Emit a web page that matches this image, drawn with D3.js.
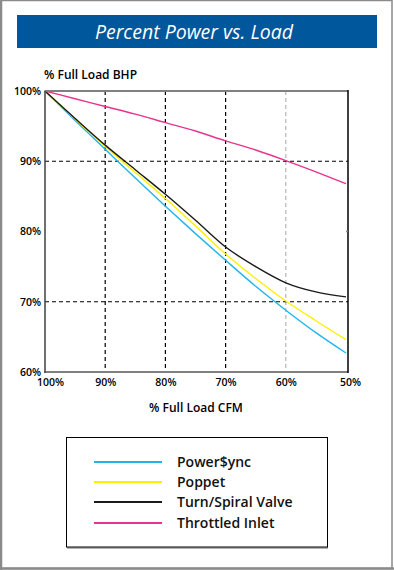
<!DOCTYPE html>
<html><head><meta charset="utf-8">
<script src="https://cdn.jsdelivr.net/npm/d3@7"></script>
<style>
html,body{margin:0;padding:0;background:#fff;}
svg text{font-family:"Open Sans",sans-serif;}
</style></head>
<body>
<svg id="chart" width="394" height="570"></svg>
<script>
const cfm = [100, 95, 90, 85, 80, 75, 70, 65, 60, 55, 50];
const powerSync = [100, 95.8, 91.7, 87.6, 83.6, 79.7, 75.9, 72.2, 68.8, 65.6, 62.7];
const poppet    = [100, 96.0, 92.1, 88.4, 84.7, 80.8, 76.8, 73.3, 70.1, 67.3, 64.6];
const turnSpiral= [100, 96.1, 92.3, 88.8, 85.3, 81.6, 77.8, 75.0, 72.7, 71.4, 70.7];
const throttled = [100, 98.9, 97.8, 96.7, 95.5, 94.3, 92.9, 91.6, 90.1, 88.5, 86.8];
const seriesNames = ["Power$ync", "Poppet", "Turn/Spiral Valve", "Throttled Inlet"];
const seriesColors = ["#22b4ec", "#fff000", "#1a1a1a", "#e8338f"];
const xTicks = [100, 90, 80, 70, 60, 50];
const yTicks = [100, 90, 80, 70, 60];
const title = "Percent Power vs. Load";
const yTitle = "% Full Load BHP";
const xTitle = "% Full Load CFM";

(function(){
const allSeries = [powerSync, poppet, turnSpiral, throttled];
const svg = d3.select("#chart");

// outer frame
svg.append("rect").attr("x",1).attr("y",0.5).attr("width",391).attr("height",568)
  .attr("fill","none").attr("stroke","#8a8a8a").attr("stroke-width",1.5);
svg.append("line").attr("x1",1).attr("x2",1).attr("y1",0).attr("y2",570).attr("stroke","#8a8a8a").attr("stroke-width",2.5);
svg.append("line").attr("x1",0).attr("x2",394).attr("y1",568.5).attr("y2",568.5).attr("stroke","#8a8a8a").attr("stroke-width",2.5);

// title banner
svg.append("rect").attr("x",17).attr("y",15).attr("width",360).attr("height",33).attr("fill","#00579b");
svg.append("text").attr("x",194).attr("y",39).attr("text-anchor","middle")
  .attr("fill","#fff").attr("font-size",19.5).attr("font-style","italic").attr("font-weight",400)
  .text(title);

const x = d3.scaleLinear().domain([100,50]).range([45,346]);
const y = d3.scaleLinear().domain([60,100]).range([372,91]);
const pL = 45, pR = 348, pT = 91, pB = 372;

// gridlines
const g = svg.append("g");
[90,80,70,60].forEach(v=>{
  g.append("line").attr("x1",x(v)).attr("x2",x(v)).attr("y1",pT).attr("y2",pB)
    .attr("stroke", v===60 ? "#b5b5b5" : "#000").attr("stroke-width",1.2).attr("stroke-dasharray","4,3");
});
[90,70].forEach(v=>{
  g.append("line").attr("x1",pL).attr("x2",pR).attr("y1",y(v)).attr("y2",y(v))
    .attr("stroke","#000").attr("stroke-width",1.2).attr("stroke-dasharray","4,3");
});

// lines
const line = d3.line().x((d,i)=>x(cfm[i])).y(d=>y(d)).curve(d3.curveMonotoneX);
[3,0,1,2].forEach(k=>{
  svg.append("path").datum(allSeries[k]).attr("d",line).attr("fill","none")
    .attr("stroke",seriesColors[k]).attr("stroke-width",1.4);
});

// frame
svg.append("line").attr("x1",pL-0.5).attr("x2",pR).attr("y1",pT).attr("y2",pT).attr("stroke","#808080").attr("stroke-width",2);
svg.append("line").attr("x1",pL-0.5).attr("x2",pR).attr("y1",pB).attr("y2",pB).attr("stroke","#808080").attr("stroke-width",2);
svg.append("line").attr("x1",pL).attr("x2",pL).attr("y1",pT).attr("y2",pB+1).attr("stroke","#404040").attr("stroke-width",1.5);
svg.append("line").attr("x1",pR).attr("x2",pR).attr("y1",pT-1).attr("y2",pB+1).attr("stroke","#000").attr("stroke-width",1.5);
svg.append("line").attr("x1",pR-2).attr("x2",pR).attr("y1",y(80)).attr("y2",y(80)).attr("stroke","#808080").attr("stroke-width",1.5);

// axes labels
const yAxis = d3.axisLeft(y).tickValues(yTicks).tickSize(0).tickPadding(4).tickFormat(d=>d+"%");
const ya = svg.append("g").attr("transform",`translate(${pL},0)`).call(yAxis);
ya.select(".domain").remove();
ya.selectAll("text").attr("font-size",10.5).attr("font-weight",600).attr("fill","#000")
  .attr("font-family","Open Sans, sans-serif");

const xAxis = d3.axisBottom(x).tickValues(xTicks).tickSize(0).tickPadding(7).tickFormat(d=>d+"%");
const xa = svg.append("g").attr("transform",`translate(0,${pB})`).call(xAxis);
xa.select(".domain").remove();
xa.selectAll("text").attr("font-size",10.5).attr("font-weight",600).attr("fill","#000")
  .attr("font-family","Open Sans, sans-serif");
xa.selectAll(".tick").filter(d=>d===100).select("text").attr("dx",5);
xa.selectAll(".tick").filter(d=>d===50).select("text").attr("dx",4);

svg.append("text").attr("x",44).attr("y",79).attr("font-size",12).attr("font-weight",600).text(yTitle);
svg.append("text").attr("x",196).attr("y",412).attr("text-anchor","middle").attr("font-size",12).attr("font-weight",600).text(xTitle);

// legend
svg.append("line").attr("x1",67).attr("x2",328).attr("y1",548).attr("y2",548).attr("stroke","#999").attr("stroke-width",1.5);
svg.append("rect").attr("x",66.5).attr("y",437.5).attr("width",261).attr("height",109.5)
  .attr("fill","#fff").attr("stroke","#000").attr("stroke-width",1);
const ly = [462, 482, 502, 523];
seriesNames.forEach((n,i)=>{
  svg.append("line").attr("x1",94).attr("x2",162).attr("y1",ly[i]).attr("y2",ly[i])
    .attr("stroke",seriesColors[i]).attr("stroke-width",2);
  svg.append("text").attr("x",177).attr("y",ly[i]+5).attr("font-size",14).attr("font-weight",600)
    .attr("fill","#111").text(n);
});
})();
</script>
</body></html>
